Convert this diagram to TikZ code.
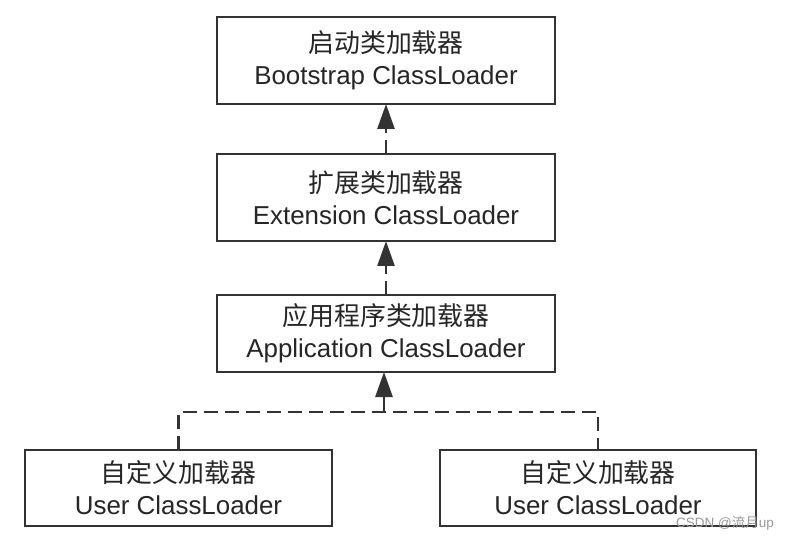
\documentclass[tikz,border=0pt]{standalone}
\usepackage{fontspec}
\setmainfont{Liberation Sans}
\newfontfamily\cjk{Noto Sans CJK SC}
\usetikzlibrary{arrows.meta}
\definecolor{lc}{HTML}{333333}
\begin{document}
\begin{tikzpicture}[x=1pt,y=-1pt,
  box/.style={draw=lc,line width=2.6pt,fill=white,inner sep=0pt,outer sep=0pt,
    align=center,text=black!85,font=\fontsize{25.9}{32}\selectfont},
  conn/.style={draw=lc,line width=2.6pt,dash pattern=on 14pt off 7pt},
  tip/.style={-{Triangle[length=25pt,width=17pt]}}]
\useasboundingbox[fill=white] (0,0) rectangle (788,540);
\node[box,minimum width=338pt,minimum height=87pt] (b1) at (386,60.5)
  {{\cjk 启动类加载器}\\Bootstrap ClassLoader};
\node[box,minimum width=338pt,minimum height=87pt] (b2) at (386,197.5)
  {{\cjk 扩展类加载器}\\Extension ClassLoader};
\node[box,minimum width=338pt,minimum height=77pt] (b3) at (386,333.5)
  {{\cjk 应用程序类加载器}\\Application ClassLoader};
\node[box,minimum width=307pt,minimum height=76pt] (u1) at (178.5,488)
  {{\cjk 自定义加载器}\\User ClassLoader};
\node[box,minimum width=316pt,minimum height=76pt] (u2) at (598,488)
  {{\cjk 自定义加载器}\\User ClassLoader};
\coordinate (bus) at (384,412);
\draw[conn,tip] (b2.north) -- (b1.south);
\draw[conn,tip] (b3.north) -- (b2.south);
\draw[conn] (u1.north) |- (bus) -| (u2.north);
\draw[draw=lc,line width=2.6pt,tip] (bus) -- (bus|-b3.south);
\node[text=black!40,font=\fontsize{13.5}{15}\selectfont,anchor=east,inner sep=0pt] (wm) at (774,523) {CSDN @{\cjk 流月}up};
\end{tikzpicture}
\end{document}
